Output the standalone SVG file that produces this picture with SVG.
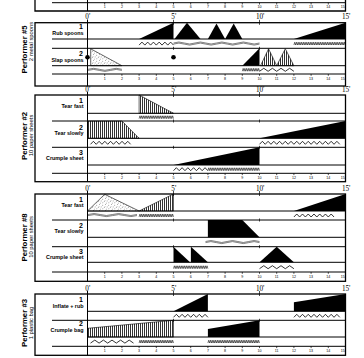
<svg xmlns="http://www.w3.org/2000/svg" width="364" height="358" viewBox="0 0 364 358">
<defs>
<style>
.ln{stroke:#000;stroke-width:1;fill:none}
.bd{stroke:#000;stroke-width:1.3;fill:none}
.tk{stroke:#000;stroke-width:0.7;fill:none}
.zz{stroke:#000;stroke-width:0.8;fill:none;stroke-linejoin:miter}
.dn{stroke:#000;stroke-width:0.55;fill:none}
.wv{stroke:#000;stroke-width:0.5;fill:none}
.bk{fill:#000}
.ht{fill:url(#hatch);stroke:#000;stroke-width:0.6}
.st{fill:url(#stip);stroke:#000;stroke-width:0.6}
.pl{font-family:"Liberation Sans",Arial,sans-serif;font-weight:bold;font-size:7.8px;text-anchor:middle}
.ps{font-family:"Liberation Sans",Arial,sans-serif;font-size:5.8px;text-anchor:middle}
.rn{font-family:"Liberation Sans",Arial,sans-serif;font-weight:bold;font-size:7px;text-anchor:end}
.rl{font-family:"Liberation Sans",Arial,sans-serif;font-weight:bold;font-size:5.4px;text-anchor:end}
.tm{font-family:"Liberation Serif","Times New Roman",serif;font-size:7.2px}
.rk{font-family:"Liberation Sans",Arial,sans-serif;font-size:3.6px;text-anchor:middle}
</style>
<pattern id="hatch" width="2" height="4" patternUnits="userSpaceOnUse"><rect x="0" y="0" width="0.8" height="4" fill="#000"/></pattern>
<pattern id="stip" width="6" height="6" patternUnits="userSpaceOnUse"><g fill="#000"><circle cx="0.8" cy="1.2" r="0.35"/><circle cx="3.5" cy="0.6" r="0.35"/><circle cx="5.1" cy="2.9" r="0.35"/><circle cx="2.2" cy="3.6" r="0.35"/><circle cx="4.2" cy="5.1" r="0.35"/><circle cx="0.9" cy="4.8" r="0.35"/><circle cx="3" cy="2.3" r="0.3"/></g></pattern>
<path id="zA6" class="zz" d="M0,3 l2.867,-3 2.867,3 2.867,-3 2.867,3 2.867,-3 2.867,3 2.867,-3 2.867,3 2.867,-3 2.867,3 2.867,-3 2.867,3"/>
<path id="zA1" class="zz" d="M0,3 l2.867,-3 2.867,3"/>
<path id="zB4" class="zz" d="M0,3 l4.3,-3 4.3,3 4.3,-3 4.3,3 4.3,-3 4.3,3 4.3,-3 4.3,3"/>
<path id="zB1" class="zz" d="M0,3 l4.3,-3 4.3,3"/>
<path id="dz10" class="dn" d="M0,2.8 l0.86,-2.8 0.86,2.8 0.86,-2.8 0.86,2.8 0.86,-2.8 0.86,2.8 0.86,-2.8 0.86,2.8 0.86,-2.8 0.86,2.8 0.86,-2.8 0.86,2.8 0.86,-2.8 0.86,2.8 0.86,-2.8 0.86,2.8 0.86,-2.8 0.86,2.8 0.86,-2.8 0.86,2.8"/>
<g id="ruler">
<path class="tk" d="M104.7,0v1.8M121.9,0v1.8M139.1,0v1.8M156.3,0v1.8M173.5,0v1.8M190.7,0v1.8M207.9,0v1.8M225.1,0v1.8M242.3,0v1.8M259.5,0v1.8M276.7,0v1.8M293.9,0v1.8M311.1,0v1.8M328.3,0v1.8"/>
<g class="rk"><text x="104.7" y="5.6">1</text><text x="121.9" y="5.6">2</text><text x="139.1" y="5.6">3</text><text x="156.3" y="5.6">4</text><text x="173.5" y="5.6">5</text><text x="190.7" y="5.6">6</text><text x="207.9" y="5.6">7</text><text x="225.1" y="5.6">8</text><text x="242.3" y="5.6">9</text><text x="259.5" y="5.6">10</text><text x="276.7" y="5.6">11</text><text x="293.9" y="5.6">12</text><text x="311.1" y="5.6">13</text><text x="328.3" y="5.6">14</text><text x="342.8" y="5.6">15</text></g>
</g>
</defs>
<rect width="364" height="358" fill="#fff"/>

<g id="previous-section">
<path class="bd" d="M35,0V11H345.5V0"/>
<path class="ln" d="M52,2.7H345.5 M87.5,0V11"/>
<use href="#ruler" y="2.7"/>
</g>

<g id="performer5">
<rect x="35" y="22.7" width="310.5" height="63.3" class="bd"/>
<path class="ln" d="M52,39H345.5 M52,48.3H345.5 M52,65.7H345.5 M52,74H345.5 M87.5,19.5V86"/>
<path class="tk" d="M173.5,19.8v5 M259.5,19.8v5 M173.5,46.8v3 M259.5,46.8v3"/>
<text class="tm" x="85.3" y="19.4">0'</text><text class="tm" x="171.3" y="19.4">5'</text><text class="tm" x="255.9" y="19.4">10'</text><text class="tm" x="341.9" y="19.4">15'</text>
<text class="pl" transform="translate(26.5,49.5) rotate(-90)">Performer #5</text>
<text class="ps" transform="translate(33.2,41.5) rotate(-90)">2 metal spoons</text>
<text class="rn" x="83" y="29.3">1</text><text class="rl" x="83.5" y="34.5">Rub spoons</text>
<text class="rn" x="83" y="56">2</text><text class="rl" x="83.5" y="61.8">Slap spoons</text>
<polygon class="bk" points="139.1,39 173.5,22.7 173.5,39"/>
<polygon class="bk" points="174.5,39 187,22.7 200.5,39"/>
<polygon class="bk" points="207.9,39 216.5,23.5 225.1,39"/>
<polygon class="bk" points="225.1,39 233.7,23.5 242.3,39"/>
<polygon class="bk" points="293.9,39 345.5,22.7 345.5,39"/>
<circle cx="87.5" cy="57.3" r="2.3"/>
<polygon class="st" points="90.7,48.8 90.7,65.7 121.9,65.7"/>
<circle cx="173.5" cy="57.3" r="2.3"/>
<polygon class="bk" points="242.3,65.7 259.5,48.3 259.5,65.7"/>
<polygon class="ht" points="260.5,65.7 268.6,48.8 276.7,65.7"/>
<polygon class="ht" points="276.7,65.7 285.3,48.8 293.9,65.7"/>
<use href="#zA6" x="139.1" y="42.1"/>
<path class="wv" d="M173.5,43 q5.375,-2 10.75,0 t10.75,0 t10.75,0 t10.75,0 t10.75,0 t10.75,0 t10.75,0 t10.75,0 M173.5,44.1 q5.375,-2 10.75,0 t10.75,0 t10.75,0 t10.75,0 t10.75,0 t10.75,0 t10.75,0 t10.75,0"/>
<use href="#dz10" x="293.9" y="42.2"/><use href="#dz10" x="311.1" y="42.2"/><use href="#dz10" x="328.3" y="42.2"/>
<path class="wv" d="M88,69.3 q5.65,-2 11.3,0 t11.3,0 t11.3,0 M88,70.4 q5.65,-2 11.3,0 t11.3,0 t11.3,0"/>
<use href="#dz10" x="242.3" y="68.4"/>
<use href="#zB4" x="259.5" y="68.3"/>
<use href="#ruler" y="74"/>
</g>

<g id="performer2">
<rect x="35" y="95" width="310.5" height="86.7" class="bd"/>
<path class="ln" d="M87.5,113.3H345.5 M52,121H345.5 M87.5,138.3H345.5 M52,147.3H345.5 M87.5,165H345.5 M52,173.3H345.5 M87.5,91.8V181.7"/>
<path class="tk" d="M173.5,92v5 M259.5,92v5 M173.5,119.5v3 M259.5,119.5v3 M173.5,145.8v3 M259.5,145.8v3"/>
<text class="tm" x="85.3" y="91.7">0'</text><text class="tm" x="171.3" y="91.7">5'</text><text class="tm" x="255.9" y="91.7">10'</text><text class="tm" x="341.9" y="91.7">15'</text>
<text class="pl" transform="translate(26.5,136) rotate(-90)">Performer #2</text>
<text class="ps" transform="translate(33.2,135.5) rotate(-90)">10 paper sheets</text>
<text class="rn" x="83" y="103.3">1</text><text class="rl" x="83.5" y="108.4">Tear fast</text>
<text class="rn" x="83" y="130">2</text><text class="rl" x="83.5" y="134.8">Tear slowly</text>
<text class="rn" x="83" y="155.2">3</text><text class="rl" x="83.5" y="160">Crumple sheet</text>
<polygon class="ht" points="139.1,95 173.5,113.3 139.1,113.3"/>
<polygon class="ht" points="87.5,121 121.9,121 139.1,138.3 87.5,138.3"/>
<polygon class="bk" points="259.5,138.3 345.5,121 345.5,138.3"/>
<polygon class="bk" points="173.5,165 259.5,147.3 259.5,165"/>
<use href="#dz10" x="139.1" y="115.8"/><use href="#dz10" x="156.3" y="115.8"/>
<use href="#zA6" x="90.5" y="141.3"/><use href="#zA1" x="124.9" y="141.3"/>
<use href="#zA6" x="259.5" y="141.3"/><use href="#zA6" x="293.9" y="141.3"/><use href="#zA1" x="328.3" y="141.3"/><use href="#zA1" x="334.03" y="141.3"/>
<use href="#zA6" x="173.5" y="167.7"/>
<use href="#dz10" x="207.9" y="167.8"/><use href="#dz10" x="225.1" y="167.8"/><use href="#dz10" x="242.3" y="167.8"/>
<use href="#ruler" y="173.3"/>
</g>

<g id="performer8">
<rect x="35" y="194" width="310.5" height="87.3" class="bd"/>
<path class="ln" d="M87.5,211H345.5 M52,220H345.5 M87.5,237.3H345.5 M52,246.7H345.5 M87.5,262.3H345.5 M52,272H345.5 M87.5,190.8V281.3"/>
<path class="tk" d="M173.5,191v5 M259.5,191v5 M173.5,218.5v3 M259.5,218.5v3 M173.5,245.2v3 M259.5,245.2v3"/>
<text class="tm" x="85.3" y="190.7">0'</text><text class="tm" x="171.3" y="190.7">5'</text><text class="tm" x="255.9" y="190.7">10'</text><text class="tm" x="341.9" y="190.7">15'</text>
<text class="pl" transform="translate(26.5,237.5) rotate(-90)">Performer #8</text>
<text class="ps" transform="translate(33.2,237) rotate(-90)">10 paper sheets</text>
<text class="rn" x="83" y="202.3">1</text><text class="rl" x="83.5" y="206.8">Tear fast</text>
<text class="rn" x="83" y="228.3">2</text><text class="rl" x="83.5" y="233.3">Tear slowly</text>
<text class="rn" x="83" y="254.3">3</text><text class="rl" x="83.5" y="259.2">Crumple sheet</text>
<polygon class="st" points="87.5,211 104.7,194.3 139.1,211"/>
<polygon class="ht" points="139.1,211 173.5,194 173.5,211"/>
<polygon class="bk" points="293.9,211 345.5,194 345.5,211"/>
<polygon class="bk" points="207.9,220 242.3,220 259.5,237.3 207.9,237.3"/>
<polygon class="bk" points="173.5,246.7 173.5,262.3 190,262.3"/>
<polygon class="bk" points="190.9,246.7 190.9,262.3 207.9,262.3"/>
<polygon class="bk" points="259.5,262.3 276.7,246.7 293.9,262.3"/>
<path class="wv" d="M88,214.5 q6.125,-2 12.25,0 t12.25,0 t12.25,0 t12.25,0 M88,215.6 q6.125,-2 12.25,0 t12.25,0 t12.25,0 t12.25,0"/>
<use href="#dz10" x="139.1" y="214.1"/><use href="#dz10" x="156.3" y="214.1"/>
<use href="#zA6" x="293.9" y="214"/><use href="#zA1" x="328.3" y="214"/>
<path class="wv" d="M205.5,241.5 q5.4,-2 10.8,0 t10.8,0 t10.8,0 t10.8,0 t10.8,0 M205.5,242.6 q5.4,-2 10.8,0 t10.8,0 t10.8,0 t10.8,0 t10.8,0"/>
<use href="#dz10" x="173.5" y="265.8"/><use href="#dz10" x="190.7" y="265.8"/>
<use href="#zB4" x="259.5" y="265.7"/>
<use href="#ruler" y="272"/>
</g>

<g id="performer3">
<rect x="35" y="294" width="310.5" height="61.3" class="bd"/>
<path class="ln" d="M87.5,311.3H345.5 M52,320.3H345.5 M87.5,337H345.5 M52,346.3H345.5 M87.5,290.8V355.3"/>
<path class="tk" d="M173.5,291v5 M259.5,291v5 M173.5,318.8v3 M259.5,318.8v3"/>
<text class="tm" x="85.3" y="290.7">0'</text><text class="tm" x="171.3" y="290.7">5'</text><text class="tm" x="255.9" y="290.7">10'</text><text class="tm" x="341.9" y="290.7">15'</text>
<text class="pl" transform="translate(26.5,323) rotate(-90)">Performer #3</text>
<text class="ps" transform="translate(33.2,323) rotate(-90)">1 plastic bag</text>
<text class="rn" x="83" y="302.3">1</text><text class="rl" x="83.5" y="307.8">Inflate + rub</text>
<text class="rn" x="83" y="326.3">2</text><text class="rl" x="83.5" y="331.5">Crumple bag</text>
<polygon class="bk" points="173.5,311.3 207.9,294 207.9,311.3"/>
<polygon class="bk" points="293.9,302.3 345.5,294 345.5,311.3 293.9,311.3"/>
<polygon class="ht" points="87.5,328.3 173.5,320.3 173.5,337 87.5,337"/>
<polygon class="bk" points="207.9,329 259.5,320.3 259.5,337 207.9,337"/>
<use href="#zA6" x="173.5" y="314.3"/>
<use href="#zA6" x="293.9" y="314.3"/><use href="#zA1" x="328.3" y="314.3"/><use href="#zA1" x="334.03" y="314.3"/>
<use href="#zB4" x="90.5" y="340.1"/><use href="#zB1" x="124.9" y="340.1"/>
<use href="#dz10" x="139.1" y="340.2"/><use href="#dz10" x="156.3" y="340.2"/>
<use href="#dz10" x="207.9" y="340.2"/><use href="#dz10" x="225.1" y="340.2"/><use href="#dz10" x="242.3" y="340.2"/>
<use href="#ruler" y="346.3"/>
</g>
</svg>
